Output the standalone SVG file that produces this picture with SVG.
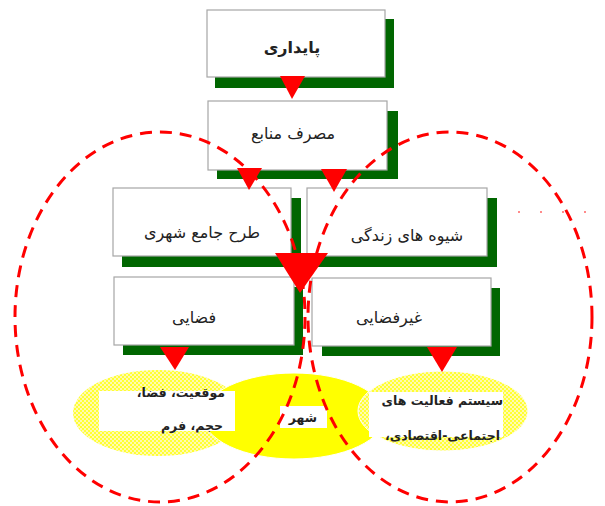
<svg xmlns="http://www.w3.org/2000/svg" width="605" height="506" viewBox="0 0 605 506">
<defs>
<style>
.box{fill:#fff;stroke:#a6a6a6;stroke-width:1.2}
.sh{fill:#006600}
.t{font-family:"DejaVu Sans",sans-serif;font-size:16px;fill:#222}
.e{font-size:12.5px;font-weight:bold}
.tri{fill:#ff0000}
.dash{fill:none;stroke:#ff0000;stroke-width:3;stroke-dasharray:12 8}
.wr{fill:#fff}
</style>
<pattern id="hatch" width="4" height="4" patternUnits="userSpaceOnUse">
<rect width="4" height="4" fill="#ffff33"/>
<rect width="2" height="2" fill="#fffbb0"/>
<rect x="2" y="2" width="2" height="2" fill="#fffbb0"/>
</pattern>
</defs>
<rect width="605" height="506" fill="#fff"/>

<g id="node-paydari">
<rect class="sh" x="215" y="19" width="179" height="69"/>
<rect class="box" x="207" y="10" width="178" height="67"/>
<text class="t" x="292" y="53" text-anchor="middle" font-weight="bold" font-size="15">پایداری</text>
</g>
<g id="node-masraf">
<rect class="sh" x="217" y="111" width="181" height="68"/>
<rect class="box" x="208" y="101" width="179" height="69"/>
<text class="t" x="293" y="139" text-anchor="middle">مصرف منابع</text>
</g>
<g id="node-tarh">
<rect class="sh" x="122" y="198" width="179" height="69"/>
<rect class="box" x="113" y="188" width="178" height="68"/>
<text class="t" x="202" y="238" text-anchor="middle">طرح جامع شهری</text>
</g>
<g id="node-shive">
<rect class="sh" x="316" y="198" width="181" height="69"/>
<rect class="box" x="307" y="188" width="180" height="68"/>
<text class="t" x="407" y="241" text-anchor="middle">شیوه های زندگی</text>
</g>
<g id="node-fazayi">
<rect class="sh" x="123" y="287" width="180" height="68"/>
<rect class="box" x="114" y="277" width="180" height="68"/>
<text class="t" x="194" y="323" text-anchor="middle">فضایی</text>
</g>
<g id="node-gheirfazayi">
<rect class="sh" x="322" y="288" width="178" height="68"/>
<rect class="box" x="312" y="278" width="179" height="68"/>
<text class="t" x="389" y="323" text-anchor="middle">غیرفضایی</text>
</g>

<g id="ellipses-bg">
<ellipse cx="158" cy="413" rx="85" ry="43" fill="url(#hatch)"/>
<ellipse cx="294" cy="416" rx="91" ry="43" fill="#ffff00" stroke="#fff" stroke-width="1"/>
<ellipse cx="443" cy="411" rx="85" ry="40" fill="url(#hatch)" stroke="#fff" stroke-width="1"/>
</g>
<g id="node-ellipse-left">
<rect class="wr" x="99" y="391" width="136" height="40"/>
<text class="t e" x="225" y="397" direction="rtl" text-anchor="start">موقعیت، فضا،</text>
<text class="t e" x="223" y="430" direction="rtl" text-anchor="start">حجم، فرم</text>
</g>
<g id="node-ellipse-shahr">
<rect class="wr" x="280" y="406" width="47" height="22"/>
<text class="t e" x="303" y="422" text-anchor="middle">شهر</text>
</g>
<g id="node-ellipse-right">
<rect class="wr" x="369" y="392" width="134" height="45"/>
<text class="t e" x="503" y="405" direction="rtl" text-anchor="start">سیستم فعالیت های</text>
<text class="t e" x="500" y="440" direction="rtl" text-anchor="start">اجتماعی-اقتصادی،</text>
</g>

<g id="connectors">
<ellipse class="dash" cx="160" cy="317" rx="145" ry="185"/>
<ellipse class="dash" cx="450" cy="317" rx="142" ry="185"/>
<line x1="518" y1="212" x2="605" y2="212" stroke="#ff6666" stroke-width="1.5" stroke-dasharray="2 20"/>
<polygon class="tri" points="280,76 305,76 292,99"/>
<polygon class="tri" points="237,168 262,168 249,190"/>
<polygon class="tri" points="321,169 347,169 334,192"/>
<polygon class="tri" points="275,253 328,253 300,293"/>
<polygon class="tri" points="160,347 189,347 175,370"/>
<polygon class="tri" points="427,347 457,347 442,372"/>
</g>
</svg>
